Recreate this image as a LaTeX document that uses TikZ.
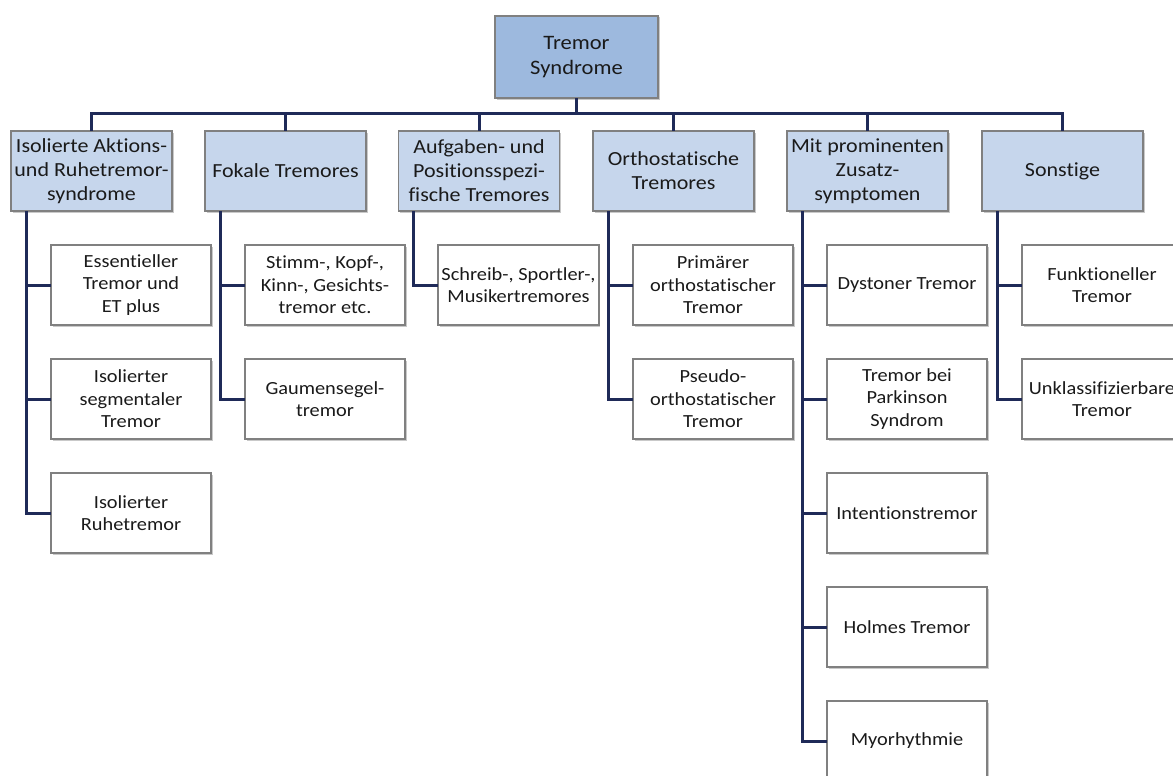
\documentclass[tikz,border=0pt]{standalone}
\usepackage{fontspec}
\setmainfont{Carlito}[FakeStretch=1.1, Ligatures=NoCommon]
\usetikzlibrary{shadows}
\definecolor{rootfill}{HTML}{9DB9DE}
\definecolor{catfill}{HTML}{C6D6EC}
\definecolor{boxline}{HTML}{808080}
\definecolor{conncol}{HTML}{1F2A58}
\definecolor{txt}{HTML}{1A1A1A}
\tikzset{
  basebox/.style={draw=boxline, line width=1.2pt, outer sep=0pt, align=center, text=txt,
    drop shadow={shadow xshift=1.5pt, shadow yshift=-1.5pt, opacity=0.35, fill=black!60}},
  rootbox/.style={basebox, fill=rootfill, minimum width=163pt, minimum height=82pt,
    font=\fontsize{20.5}{25}\selectfont},
  catbox/.style={basebox, fill=catfill, minimum width=161pt, minimum height=80pt,
    font=\fontsize{20}{24}\selectfont},
  leafbox/.style={basebox, fill=white, minimum width=160pt, minimum height=80pt,
    font=\fontsize{18.5}{22.5}\selectfont},
  conn/.style={draw=conncol, line width=3pt}
}
\begin{document}
\begin{tikzpicture}[x=1pt,y=-1pt]
\useasboundingbox (0,0) rectangle (1173,776);
\clip (0,0) rectangle (1173,776);
\fill[white] (0,0) rectangle (1173,776);

% root
\node[rootbox] (root) at (576.5,57) {Tremor\\Syndrome};

% categories
\node[catbox] (p1) at (91.5,171)  {Isolierte Aktions-\\und Ruhetremor-\\syndrome};
\node[catbox] (p2) at (285.5,171) {Fokale Tremores};
\node[catbox] (p3) at (479,171)   {Aufgaben- und\\Positionsspezi-\\fische Tremores};
\node[catbox] (p4) at (673.5,171) {Orthostatische\\Tremores};
\node[catbox] (p5) at (867.5,171) {Mit prominenten\\Zusatz-\\symptomen};
\node[catbox] (p6) at (1062.5,171) {Sonstige};

% leaves
\node[leafbox] (c11) at (131,285) {Essentieller\\Tremor und\\ET plus};
\node[leafbox] (c12) at (131,399) {Isolierter\\segmentaler\\Tremor};
\node[leafbox] (c13) at (131,513) {Isolierter\\Ruhetremor};

\node[leafbox] (c21) at (325,285) {Stimm-, Kopf-,\\Kinn-, Gesichts-\\tremor etc.};
\node[leafbox] (c22) at (325,399) {Gaumensegel-\\tremor};

\node[leafbox] (c31) at (518.5,285) {Schreib-, Sportler-,\\Musikertremores};

\node[leafbox] (c41) at (713,285) {Primärer\\orthostatischer\\Tremor};
\node[leafbox] (c42) at (713,399) {Pseudo-\\orthostatischer\\Tremor};

\node[leafbox] (c51) at (907,285) {Dystoner Tremor};
\node[leafbox] (c52) at (907,399) {Tremor bei\\Parkinson\\Syndrom};
\node[leafbox] (c53) at (907,513) {Intentionstremor};
\node[leafbox] (c54) at (907,627) {Holmes Tremor};
\node[leafbox] (c55) at (907,741) {Myorhythmie};

\node[leafbox] (c61) at (1102,285) {Funktioneller\\Tremor};
\node[leafbox] (c62) at (1102,399) {Unklassifizierbare\\Tremor};

% root to categories
\coordinate (bar) at (576.5,113);
\foreach \p in {p1,p2,p3,p4,p5,p6}
  \draw[conn] (root.south) -- (bar) -| (\p.north);

% categories to leaves
\foreach \p/\c in {p1/c11,p1/c12,p1/c13,p2/c21,p2/c22,p3/c31,p4/c41,p4/c42,
                   p5/c51,p5/c52,p5/c53,p5/c54,p5/c55,p6/c61,p6/c62}
  \draw[conn] ([xshift=15pt]\p.south west) |- (\c.west);
\end{tikzpicture}
\end{document}
